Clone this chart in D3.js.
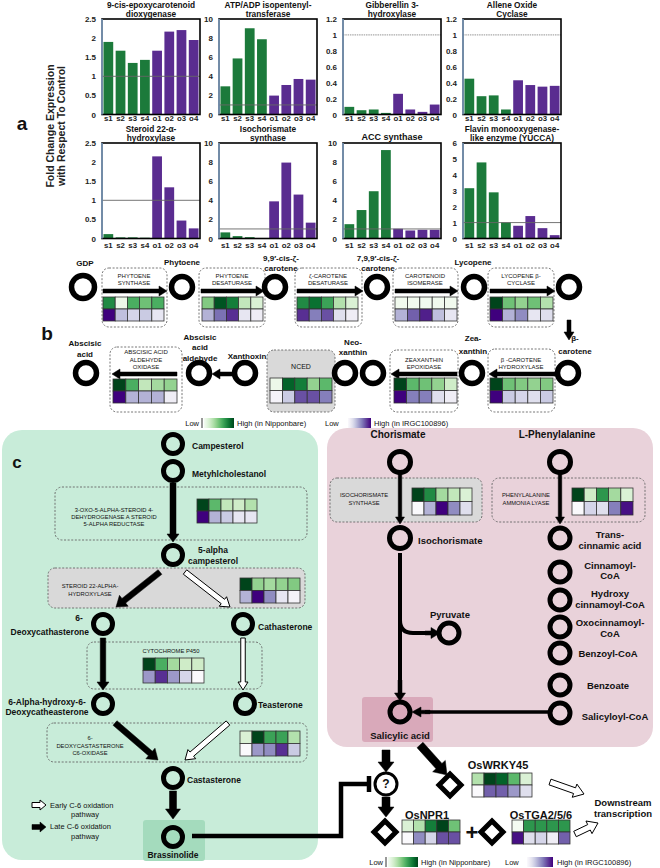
<!DOCTYPE html>
<html><head><meta charset="utf-8">
<script src="https://cdn.jsdelivr.net/npm/d3@7"></script>
<style>body{margin:0;background:#fff} svg{display:block} text{font-family:"Liberation Sans",Arial,sans-serif}</style>
</head><body><svg id="c" width="660" height="868"></svg>
<script>
// ---------- DATA ----------
const samples = ["s1","s2","s3","s4","o1","o2","o3","o4"];
const barTitles = [["9-cis-epoxycarotenoid","dioxygenase"],["ATP/ADP isopentenyl-","transferase"],["Gibberellin 3-","hydroxylase"],["Allene Oxide","Cyclase"],["Steroid 22-α-","hydroxylase"],["Isochorismate","synthase"],["ACC synthase"],["Flavin monooxygenase-","like enzyme (YUCCA)"]];
const ncedVals  = [1.9,1.67,1.35,1.43,1.67,2.17,2.21,1.95];
const iptVals   = [2.95,5.87,9.03,7.88,1.98,3.09,3.72,3.65];
const ga3oxVals = [0.096,0.054,0.063,0.02,0.26,0.063,0.033,0.125];
const aocVals   = [0.45,0.23,0.24,0.063,0.43,0.37,0.35,0.36];
const s22aVals  = [0.115,0.03,0.03,0.02,2.15,1.34,0.47,0.265];
const icsVals   = [0.64,0.25,0.14,0.05,3.89,7.95,4.6,1.66];
const accVals   = [1.5,2.98,4.95,9.26,1.02,0.84,0.91,0.91];
const yuccaVals = [3.16,4.78,2.9,1.01,0.8,1.41,0.65,0.21];
const barSeries = [ncedVals,iptVals,ga3oxVals,aocVals,s22aVals,icsVals,accVals,yuccaVals];
const barMax = [2.5,10,1.2,1.2,2.5,10,10,6];
const tickA = ["0","0.5","1","1.5","2","2.5"];
const tickB = ["0","2","4","6","8","10"];
const tickC = ["0","0.2","0.4","0.6","0.8","1","1.2"];
const tickD = ["0","1","2","3","4","5","6"];
const barTicks = [tickA,tickB,tickC,tickC,tickA,tickB,tickB,tickD];

// heatmaps: [Nipponbare row, IRGC100896 row], relative level 0..1
const hmPSY   = [[0.75,0.05,0.6,0.5,0.6],[1.0,0.35,0.25,0.3,0.15]];
const hmPDS   = [[0.45,0.95,0.8,0.25,0.15],[0.4,0.65,0.85,0.15,0.1]];
const hmZDS   = [[0.75,0.85,0.65,0.3,0.15],[0.85,0.6,0.75,0.2,0.1]];
const hmCRTISO= [[0.02,0.02,0.02,0.02,0.02],[0.4,0.7,0.9,0.35,0.15]];
const hmLCYB  = [[1.0,0.5,0.4,0.5,0.3],[1.0,0.4,0.55,0.15,0.2]];
const hmAAO   = [[1.0,0.6,0.25,0.35,0.4],[1.0,0.4,0.4,0.4,0.1]];
const hmNCED  = [[0.05,0.9,0.8,0.4,0.55],[0.05,0.3,0.75,0.75,0.6]];
const hmZEP   = [[1.0,0.55,0.5,0.4,0.2],[1.0,0.6,0.6,0.2,0.1]];
const hmBCH   = [[1.0,0.5,0.45,0.4,0.45],[1.0,0.3,0.25,0.2,0.3]];
const hmDET2  = [[1.0,0.55,0.25,0.2,0.3],[1.0,0.4,0.3,0.15,0.15]];
const hmS22A  = [[1.0,0.4,0.35,0.4,0.45],[0.4,1.0,0.55,0.15,0.05]];
const hmP450  = [[1.0,0.6,0.35,0.2,0.2],[0.5,0.85,0.5,0.25,0.0]];
const hmC6OX  = [[0.15,1.0,0.65,0.65,0.3],[0.0,0.5,0.55,0.85,0.3]];
const hmICS   = [[1.0,0.75,0.35,0.25,0.15],[0.0,0.4,1.0,0.55,0.2]];
const hmPAL   = [[1.0,0.2,0.7,0.35,0.15],[0.0,0.25,0.2,0.6,0.95]];
const hmWRKY  = [[0.3,1.0,0.9,0.55,0.15],[0.0,0.7,0.7,0.5,0.2]];
const hmNPR1  = [[0.15,0.3,0.8,1.0,0.5],[0.0,0.55,0.25,0.75,0.75]];
const hmTGA   = [[0.0,0.7,0.7,0.7,0.7],[0.95,0.2,0.25,0.1,0.7]];

// ---------- DRAW ----------
const GREEN = "#1c7a3b", PURPLE = "#5a2c90";
const gScale = t => d3.interpolateGreens(0.02 + t*0.98);
const pScale = t => d3.interpolatePurples(0.02 + t*0.98);
const svg = d3.select("#c");

function T(x,y,s,size,bold,anchor,g){
  return (g||svg).append("text").attr("x",x).attr("y",y).text(s)
    .attr("font-size",size).attr("font-weight",bold?"bold":"normal")
    .attr("text-anchor",anchor||"middle").attr("dominant-baseline","central").attr("fill","#111");
}
function TL(x,y,arr,lh,size,bold,anchor){ arr.forEach((s,i)=>T(x,y+i*lh,s,size,bold,anchor)); }

function arrowPts(x1,y1,x2,y2,sw,hw,hl){
  const L = Math.hypot(x2-x1,y2-y1), a = Math.atan2(y2-y1,x2-x1);
  const loc = [[0,-sw/2],[L-hl,-sw/2],[L-hl,-hw/2],[L,0],[L-hl,hw/2],[L-hl,sw/2],[0,sw/2]];
  return loc.map(([u,v])=>[x1+u*Math.cos(a)-v*Math.sin(a), y1+u*Math.sin(a)+v*Math.cos(a)]);
}
function arrow(x1,y1,x2,y2,sw,hw,hl,hollow){
  svg.append("path").attr("d", d3.line()(arrowPts(x1,y1,x2,y2,sw,hw,hl))+"Z")
    .attr("fill",hollow?"#fff":"#000").attr("stroke","#000").attr("stroke-width",hollow?1:0.5)
    .attr("stroke-linejoin","miter");
}
function circ(x,y,r,sw){ svg.append("circle").attr("cx",x).attr("cy",y).attr("r",r).attr("fill","none").attr("stroke","#000").attr("stroke-width",sw||5); }
function dbox(x,y,w,h,fill){ svg.append("rect").attr("x",x).attr("y",y).attr("width",w).attr("height",h).attr("rx",7)
   .attr("fill",fill||"none").attr("stroke","#666").attr("stroke-width",0.9).attr("stroke-dasharray","2,1.6"); }
function heat(x0,y0,data,cw,ch){
  const xs = d3.scaleBand().domain(d3.range(5)).range([x0,x0+5*cw]);
  const g = svg.append("g");
  data.forEach((row,r)=>{
    g.selectAll(null).data(row).join("rect")
      .attr("x",(d,j)=>xs(j)).attr("y",y0+r*ch).attr("width",xs.bandwidth()).attr("height",ch)
      .attr("fill",d=>r===0?gScale(d):pScale(d)).attr("stroke","#333").attr("stroke-width",0.8);
  });
}
function diamond(x,y,h){ svg.append("path").attr("d",`M${x},${y-h}L${x+h},${y}L${x},${y+h}L${x-h},${y}Z`)
   .attr("fill","#fff").attr("stroke","#000").attr("stroke-width",5).attr("stroke-linejoin","miter"); }

// ---------- Panel a ----------
const panelX = [102,219,343,463,102,219,343,463];
const panelY = [19,19,19,19,143,143,143,143];
const PW = 98, PH = 95.5;
barSeries.forEach((vals,i)=>{
  const g = svg.append("g").attr("transform",`translate(${panelX[i]},${panelY[i]})`);
  const x = d3.scaleBand().domain(samples).range([0,PW]).paddingInner(0.2).paddingOuter(0.12);
  const y = d3.scaleLinear().domain([0,barMax[i]]).range([PH,0]);
  g.selectAll("rect.bar").data(vals).join("rect").attr("class","bar")
    .attr("x",(d,j)=>x(samples[j])).attr("y",d=>y(d)).attr("width",x.bandwidth())
    .attr("height",d=>PH-y(d)).attr("fill",(d,j)=>j<4?GREEN:PURPLE);
  g.append("line").attr("x1",0).attr("x2",PW).attr("y1",y(1)).attr("y2",y(1))
    .attr("stroke",barMax[i]<2?"#aaa":"#666").attr("stroke-width",barMax[i]<2?1.2:0.9)
    .attr("stroke-dasharray",barMax[i]<2?"1.5,0.8":null);
  g.append("rect").attr("width",PW).attr("height",PH).attr("fill","none").attr("stroke","#000").attr("stroke-width",1.6);
  g.append("line").attr("x1",0).attr("x2",0).attr("y1",0).attr("y2",PH).attr("stroke","#8fb3da").attr("stroke-width",1.4);
  const ticks = barTicks[i];
  const ya = g.append("g").call(d3.axisLeft(y).tickValues(ticks.map(Number)).tickFormat((d,k)=>ticks[k]).tickSize(0).tickPadding(6));
  ya.select(".domain").remove();
  ya.selectAll("text").attr("font-size",8).attr("font-weight","bold").attr("fill","#222").attr("font-family",'"Liberation Sans",Arial,sans-serif');
  const xa = g.append("g").attr("transform",`translate(0,${PH})`).call(d3.axisBottom(x).tickSize(0).tickPadding(i<4?0.5:4));
  xa.select(".domain").remove();
  xa.selectAll("text").attr("font-size",7.8).attr("font-weight","bold").attr("fill","#222").attr("font-family",'"Liberation Sans",Arial,sans-serif');
  const t = barTitles[i];
  const cx = panelX[i]+PW/2;
  if (t.length===1) T(cx,panelY[i]-6,t[0],9,true);
  else TL(cx,panelY[i]-14.2,t,9.4,8.3,true);
});
svg.append("text").attr("transform","translate(50,126) rotate(-90)").attr("text-anchor","middle").attr("dominant-baseline","central")
  .attr("font-size",10.5).attr("font-weight","bold").attr("fill","#222").text("Fold Change Expression");
svg.append("text").attr("transform","translate(61,126) rotate(-90)").attr("text-anchor","middle").attr("dominant-baseline","central")
  .attr("font-size",10.5).attr("font-weight","bold").attr("fill","#222").text("with Respect To Control");
T(22,123,"a",19,true);

// ---------- Panel b ----------
T(47,333,"b",19,true);
const y1 = 287, y2 = 373;
dbox(102,268,65,59); dbox(199,268,66,59); dbox(295,268,67,59); dbox(393,268,65,59); dbox(488,268,66,59);
circ(83,y1,11.5,5.5); circ(182,y1,10.5,5.5); circ(275,y1,10.5,5.5); circ(377,y1,10.5,5.5); circ(474,y1,10.5,5.5); circ(569,y1,10.5,5.5);
T(85,263,"GDP",8,true); T(182,262,"Phytoene",8,true);
TL(281,258,["9,9′-cis-ζ-","carotene"],10,8,true); TL(378,258,["7,9,9′-cis-ζ-","carotene"],10,8,true);
T(473,262,"Lycopene",8,true);
TL(134,276,["PHYTOENE","SYNTHASE"],7,6); TL(232,276,["PHYTOENE","DESATURASE"],7,6);
TL(328,276,["ζ-CAROTENE","DESATURASE"],7,6); TL(425,276,["CAROTENOID","ISOMERASE"],7,6);
TL(521,276,["LYCOPENE β-","CYCLASE"],7,6);
arrow(103,291,167,291,4,10,8); arrow(201,291,264,291,4,10,8); arrow(297,291,363,291,4,10,8);
arrow(395,291,458,291,4,10,8); arrow(490,291,555,291,4,10,8);
heat(103,297,hmPSY,12.2,12); heat(202,297,hmPDS,12.2,12); heat(297,297,hmZDS,12.2,12);
heat(395,297,hmCRTISO,12.4,12); heat(490,297,hmLCYB,12.6,12);
arrow(569,320,569,340,4,10,8);
dbox(110,347,72,65); dbox(267,350,68,62,"#d9d9d9"); dbox(390,350,68,62); dbox(488,349,67,63);
circ(86,y2,10.5,5.5); circ(199,y2,10.5,5.5); circ(245,y2,10.5,5.5); circ(345,y2,10.5,5.5); circ(373,y2,10.5,5.5); circ(472,y2,10.5,5.5); circ(568,y2,10.5,5.5);
TL(85,343,["Abscisic","acid"],11,8,true); TL(200,337,["Abscisic","acid","aldehyde"],10.5,8,true);
T(247,356,"Xanthoxin",8,true); TL(353,342,["Neo-","xanthin"],10,8,true);
TL(473,338,["Zea-","xanthin"],13,8,true); TL(575,338,["β-","carotene"],13,8,true);
TL(146,352,["ABSCISIC  ACID","ALDEHYDE","OXIDASE"],7.6,6); T(301,366,"NCED",7);
TL(424,360,["ZEAXANTHIN","EPOXIDASE"],7,6); TL(521,360,["β -CAROTENE","HYDROXYLASE"],7,6);
arrow(177,374,112,374,4,10,8); arrow(233,374,212,374,4,10,8);
arrow(457,374,391,374,4,10,8); arrow(555,374,489,374,4,10,8);
heat(113,379,hmAAO,12.8,12); heat(270,378,hmNCED,12.4,12.5); heat(394,378,hmZEP,12.6,12.5); heat(490,378,hmBCH,12.6,12.5);

const defs = svg.append("defs");
function grad(id,fn){ const lg = defs.append("linearGradient").attr("id",id);
  d3.range(0,1.01,0.1).forEach(t=>lg.append("stop").attr("offset",t).attr("stop-color",fn(t))); }
grad("gG",gScale); grad("gP",pScale);
function legend(y,lx,gx,gw,hx,px,pgx,pgw,phx){
  T(lx,y,"Low",7.5,false,"end"); svg.append("line").attr("x1",lx+3).attr("x2",lx+3).attr("y1",y-5).attr("y2",y+5).attr("stroke","#333").attr("stroke-width",1);
  svg.append("rect").attr("x",gx).attr("y",y-5).attr("width",gw).attr("height",10).attr("fill","url(#gG)");
  T(hx,y,"High (in Nipponbare)",7.5,false,"start");
  T(px,y,"Low",7.5,false,"start");
  svg.append("rect").attr("x",pgx).attr("y",y-5).attr("width",pgw).attr("height",10).attr("fill","url(#gP)");
  T(phx,y,"High (in IRGC100896)",7.5,false,"start");
}
legend(423,199,204,30,237,325,348,23,374);

// ---------- Panel c ----------
svg.append("rect").attr("x",2).attr("y",430).attr("width",316).attr("height",430).attr("rx",20).attr("fill","#c8ecd9");
svg.append("rect").attr("x",327).attr("y",428).attr("width",326).attr("height",319).attr("rx",20).attr("fill","#e9d2da");
T(17,462,"c",17,true);
dbox(55,487,252,53); dbox(48,568,257,40,"#d9d9d9"); dbox(87,642,175,47); dbox(47,723,260,39);
svg.append("rect").attr("x",143).attr("y",820).attr("width",62).attr("height",41).attr("rx",3).attr("fill","#a4dbbd");
circ(173,444,9.5,5); circ(173,471,9.5,5); circ(173,555,9.5,5);
circ(103,624,9.5,5); circ(243,624,9.5,5); circ(103,704,9.5,5); circ(245,704,9.5,5);
circ(173,778,9.5,5); circ(173,837,9.5,5);
T(192,446,"Campesterol",8.5,true,"start"); T(192,474,"Metyhlcholestanol",8.5,true,"start");
TL(213,550,["5-alpha","campesterol"],11,8.5,true);
T(79,618,"6-",8.5,true); T(89,632,"Deoxycathasterone",8.5,true,"end");
T(258,627,"Cathasterone",8.5,true,"start");
TL(47,702,["6-Alpha-hydroxy-6-","Deoxycatheasterone"],9.7,8.5,true);
T(258,705,"Teasterone",8.5,true,"start"); T(187,780,"Castasterone",8.5,true,"start");
T(173,855,"Brassinolide",8.5,true);
TL(114,510,["3-OXO-5-ALPHA-STEROID 4-","DEHYDROGENASE  A STEROID","5-ALPHA  REDUCTASE"],6.8,5.8);
TL(90,586,["STEROID  22-ALPHA-","HYDROXYLASE"],8,5.8);
T(171,651,"CYTOCHROME  P450",5.8);
TL(90,738,["6-","DEOXYCASTASTERONE","C6-OXIDASE"],7.5,5.8);
heat(197,499,hmDET2,12,12); heat(240,578,hmS22A,12,12.5); heat(143,658,hmP450,12.2,12.5); heat(240,731,hmC6OX,12,12.5);
arrow(173,483,173,542,6,12,8);
arrow(160,572,116,607,6,14,10); arrow(185,572,230,607,5.5,12,9,true);
arrow(103,638,103,690,5.5,12,8); arrow(243,638,243,690,4.5,10,8,true);
arrow(115,723,158,760,6,14,10); arrow(228,723,185,760,5.5,12,9,true);
arrow(173,791,173,819,7,15,10);
arrow(32,805,46,805,5,10,6,true); arrow(32,827,46,827,5,10,6);
T(50,805,"Early C-6 oxidation",7.5,false,"start"); T(85,814,"pathway",7.5);
T(50,826,"Late C-6 oxidation",7.5,false,"start"); T(85,836,"pathway",7.5);

dbox(330,478,152,44,"#d9d9d9"); dbox(492,478,153,44);
svg.append("rect").attr("x",362).attr("y",697).attr("width",71).attr("height",45).attr("rx",3).attr("fill","#d9a9ba");
T(398,434,"Chorismate",10,true); T(557,434,"L-Phenylalanine",10,true);
circ(400,462,10.5,5); circ(560,462,10.5,5); circ(400,538,10.5,5);
[538,572,600,627,653,685,713].forEach(yy=>circ(560,yy,10,5));
circ(449,633,10,5); circ(400,712,10,5);
T(418,540,"Isochorismate",9.5,true,"start"); T(450,614,"Pyruvate",9.5,true);
TL(610,534,["Trans-","cinnamic acid"],11.5,9.5,true); TL(610,565,["Cinnamoyl-","CoA"],10.8,9.5,true);
TL(610,593,["Hydroxy","cinnamoyl-CoA"],11,9.5,true); TL(610,622,["Oxocinnamoyl-","CoA"],11,9.5,true);
T(608,653,"Benzoyl-CoA",9.5,true); T(608,685,"Benzoate",9.5,true); T(615,716,"Salicyloyl-CoA",9.5,true);
T(400,735,"Salicylic acid",9.5,true);
TL(364,495,["ISOCHORISMATE","SYNTHASE"],8,5.8); TL(526,495,["PHENYLALANINE","AMMONIA  LYASE"],8,5.8);
heat(412,488,hmICS,12,13.5); heat(572,488,hmPAL,12.2,13.5);
arrow(400,473,400,524,3.5,9,7); arrow(560,473,560,524,3.5,9,7);
svg.append("path").attr("d","M400,553V693").attr("stroke","#000").attr("stroke-width",4).attr("fill","none");
arrow(400,680,400,701,4,11,8);
svg.append("path").attr("d","M400,620Q400,633 413,633H428").attr("stroke","#000").attr("stroke-width",4).attr("fill","none");
arrow(425,633,440,633,4,11,9);
svg.append("path").attr("d","M549,712H425").attr("stroke","#000").attr("stroke-width",3.5);
arrow(430,712,412,712,3.5,10,9);
arrow(420,745,447,775,8,17,12);
arrow(386,750,386,772,8,16,10);
svg.append("circle").attr("cx",386).attr("cy",784).attr("r",11).attr("fill","#fff").attr("stroke","#000").attr("stroke-width",3);
T(386,784,"?",12,true);
arrow(386,797,386,817,8,16,10);
svg.append("path").attr("d","M192,836H341V784H369").attr("stroke","#000").attr("stroke-width",4.5).attr("fill","none");
svg.append("line").attr("x1",369).attr("x2",369).attr("y1",776).attr("y2",792).attr("stroke","#000").attr("stroke-width",4.5);
diamond(450,785,11); diamond(385,832,11); diamond(492,832,11);
T(498,765,"OsWRKY45",11,true); T(427,815,"OsNPR1",11,true); T(541,815,"OsTGA2/5/6",11,true);
heat(472,773,hmWRKY,12,12); heat(402,820,hmNPR1,11.6,12); heat(512,820,hmTGA,11.6,12);
T(472,832,"+",22,true);
arrow(550,782,584,794,6,14,10,true); arrow(575,834,598,823,6,14,10,true);
TL(623,802,["Downstream","transcription"],11.5,9.5,true);
legend(862,383,388,30,421,505,527,26,557);
</script></body></html>
